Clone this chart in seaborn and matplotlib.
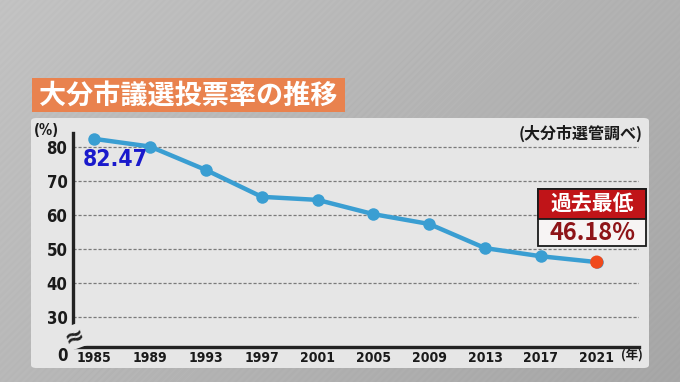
import numpy as np
import pandas as pd
import matplotlib
matplotlib.use("Agg")
import matplotlib.pyplot as plt
import seaborn as sns
from matplotlib.patches import FancyBboxPatch, Rectangle

# ---- data ----
years = [1985, 1989, 1993, 1997, 2001, 2005, 2009, 2013, 2017, 2021]
turnout = [82.47, 80.2, 73.3, 65.4, 64.5, 60.3, 57.4, 50.3, 47.9, 46.18]
ytick_vals = [30, 40, 50, 60, 70, 80]
title = "大分市議選投票率の推移"
source = "(大分市選管調べ)"
low_label = "過去最低"
low_value = "46.18%"

df = pd.DataFrame({"year": years, "turnout": turnout})

W, H = 680, 382
sns.set_theme(style="white")
plt.rcParams['font.family'] = ['Noto Sans CJK JP', 'DejaVu Sans']
NUM = dict(family=['DejaVu Sans'], fontstretch='condensed', fontweight='bold')

fig = plt.figure(figsize=(W / 100, H / 100), dpi=100)

def fx(x):
    return x / W

def fy(y):
    return 1 - y / H

# background
bg = fig.add_axes([0, 0, 1, 1], zorder=-10)
gx, gy = np.meshgrid(np.linspace(0, 1, 680), np.linspace(0, 1, 382))
grad = 0.72 - 0.07 * gx + 0.04 * gy + 0.006 * np.sin((gx * 680 - gy * 382) * 0.9)
bg.imshow(grad, cmap="gray", vmin=0, vmax=1, aspect="auto", extent=[0, 1, 0, 1],
          origin="lower", interpolation="bilinear")
bg.set_axis_off()

# panel
panel = FancyBboxPatch((fx(31), fy(368)), fx(649 - 31), (368 - 118) / H,
                       boxstyle="round,pad=0,rounding_size=0.008",
                       transform=fig.transFigure, facecolor="#e6e6e6",
                       edgecolor="none", zorder=-5)
fig.patches.append(panel)

# title box
tbox = Rectangle((fx(32), fy(112)), fx(345 - 32), (112 - 78) / H,
                 transform=fig.transFigure, facecolor="#e9824e", edgecolor="none", zorder=-4)
fig.patches.append(tbox)
fig.text(fx(188.5), fy(96), title, color="white", fontsize=19.5, fontweight="bold",
         ha="center", va="center")

# main axes
ax = fig.add_axes([fx(73), fy(347), fx(639 - 73), (347 - 133) / H])
ax.set_facecolor("none")
ybot = 30 - 30 / 3.4
ax.set_ylim(ybot, 84.2)
ax.set_xlim(1983.47, 2024.03)

for v in ytick_vals:
    ax.axhline(v, color="#7a7a7a", lw=0.9, ls=(0, (2.5, 1.5)), zorder=1)

sns.lineplot(data=df, x="year", y="turnout", ax=ax, color="#3a9ed2", lw=3.2,
             marker="o", markersize=9, markeredgewidth=0, zorder=3)
sns.scatterplot(x=[years[-1]], y=[turnout[-1]], ax=ax, color="#f04a1c", s=90,
                edgecolor="none", zorder=4)

ax.set_yticks(ytick_vals)
ax.set_yticklabels([str(v) for v in ytick_vals], fontsize=12, color="#1a1a1a", **NUM)
ax.set_xticks(years)
ax.set_xticklabels([str(y) for y in years], fontsize=10, color="#1a1a1a", **NUM)
ax.tick_params(axis="y", length=0, pad=4)
ax.tick_params(axis="x", length=0, pad=3)
ax.set_xlabel("")
ax.set_ylabel("")
for s in ["top", "right"]:
    ax.spines[s].set_visible(False)
for s in ["left", "bottom"]:
    ax.spines[s].set_color("#222222")
    ax.spines[s].set_linewidth(2.4)

# axis break and zero label
fig.text(fx(74), fy(337), "≈", fontsize=17, color="#222222", ha="center", va="center",
         family=['DejaVu Sans'], fontweight="bold", rotation=20,
         bbox=dict(boxstyle="square,pad=0.0", facecolor="#e6e6e6", edgecolor="none"))
fig.text(fx(67.5), fy(356), "0", fontsize=12, color="#1a1a1a", ha="right", va="center", **NUM)
fig.text(fx(46), fy(131), "(%)", fontsize=10.5, color="#1a1a1a", ha="center", va="center", **NUM)
fig.text(fx(621), fy(356), "(年)", fontsize=9, fontweight="bold",
         color="#1a1a1a", ha="left", va="center")

# first value label
fig.text(fx(83), fy(159), f"{turnout[0]:.2f}", fontsize=16.5, color="#1a1acc",
         ha="left", va="center", **NUM)

# source
fig.text(fx(643), fy(133), source, fontsize=11.5, fontweight="bold",
         color="#1a1a1a", ha="right", va="center")

# lowest annotation box
bx0, bx1, by0, bmid, by1 = 538, 646, 189, 219, 246
fig.patches.append(Rectangle((fx(bx0), fy(by1)), fx(bx1 - bx0), (by1 - by0) / H,
                             transform=fig.transFigure, facecolor="#f7f4f4",
                             edgecolor="#1a1a1a", lw=1.3, zorder=5))
fig.patches.append(Rectangle((fx(bx0), fy(bmid)), fx(bx1 - bx0), (bmid - by0) / H,
                             transform=fig.transFigure, facecolor="#c01418",
                             edgecolor="#1a1a1a", lw=1.3, zorder=6))
fig.text(fx((bx0 + bx1) / 2), fy(204), low_label, fontsize=15, fontweight="bold",
         color="white", ha="center", va="center", zorder=7)
fig.text(fx((bx0 + bx1) / 2), fy(233), low_value, fontsize=17, fontweight="bold",
         color="#8e1418", ha="center", va="center", zorder=7)

fig.savefig("out.png", dpi=100)
